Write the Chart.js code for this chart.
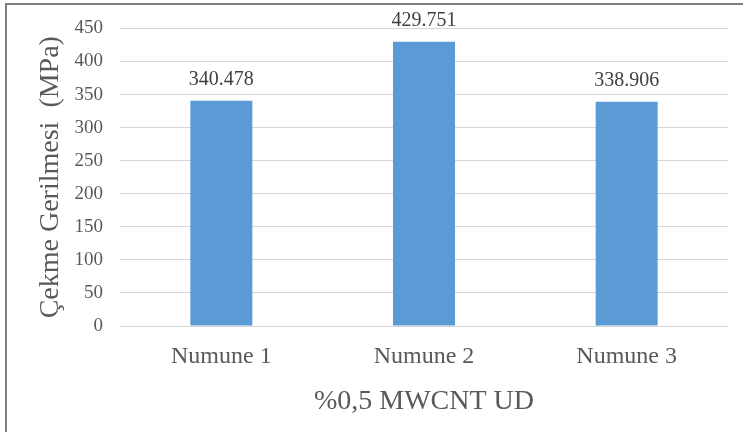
<!DOCTYPE html>
<html>
<head>
<meta charset="utf-8">
<script src="https://cdn.jsdelivr.net/npm/chart.js@4/dist/chart.umd.min.js"></script>
<style>
  html, body { margin: 0; padding: 0; background: #ffffff; }
  #wrap { position: relative; width: 743px; height: 432px; overflow: hidden; }
</style>
</head>
<body>
<div id="wrap"><canvas id="c" width="743" height="432"></canvas></div>
<script>
// Tensile stress per specimen
const categories = ['Numune 1', 'Numune 2', 'Numune 3'];
const stressValues = [340.478, 429.751, 338.906];
const yTicks = [0, 50, 100, 150, 200, 250, 300, 350, 400, 450];

const SERIF = "'Liberation Serif', 'Times New Roman', serif";

// Outer frame of the chart object
const framePlugin = {
  id: 'frame',
  beforeDraw(chart) {
    const ctx = chart.ctx;
    ctx.save();
    ctx.fillStyle = '#ffffff';
    ctx.fillRect(0, 0, chart.width, chart.height);
    ctx.strokeStyle = '#7f7f7f';
    ctx.lineWidth = 2;
    ctx.strokeRect(6, 4, chart.width + 20, chart.height + 20);
    ctx.restore();
  }
};

// Value labels above each bar
const valueLabels = {
  id: 'valueLabels',
  afterDatasetsDraw(chart) {
    const ctx = chart.ctx;
    const meta = chart.getDatasetMeta(0);
    ctx.save();
    ctx.font = '20px ' + SERIF;
    ctx.fillStyle = '#404040';
    ctx.textAlign = 'center';
    ctx.textBaseline = 'middle';
    meta.data.forEach((bar, i) => {
      const v = chart.data.datasets[0].data[i];
      ctx.fillText(v.toFixed(3), bar.x, bar.y - 21);
    });
    ctx.restore();
  }
};

new Chart(document.getElementById('c'), {
  type: 'bar',
  data: {
    labels: categories,
    datasets: [{
      data: stressValues,
      backgroundColor: '#5b9bd5',
      borderWidth: 0,
      categoryPercentage: 1.0,
      barPercentage: 0.306
    }]
  },
  options: {
    responsive: false,
    devicePixelRatio: 1,
    animation: false,
    layout: { padding: { top: 28, right: 15, bottom: 0, left: 10 } },
    plugins: {
      legend: { display: false },
      tooltip: { enabled: false }
    },
    scales: {
      x: {
        grid: { display: false, drawTicks: false },
        border: { display: false },
        ticks: {
          color: '#595959',
          font: { family: SERIF, size: 24 },
          padding: 16
        },
        title: {
          display: true,
          text: '%0,5 MWCNT UD',
          color: '#595959',
          font: { family: SERIF, size: 28 },
          padding: { top: 0, bottom: 14 }
        },
        afterFit(scale) { scale.height = 106; }
      },
      y: {
        min: 0,
        max: 450,
        afterBuildTicks(scale) { scale.ticks = yTicks.map(v => ({ value: v })); },
        grid: { color: '#d6d6d6', lineWidth: 1, drawTicks: false },
        border: { display: false },
        ticks: {
          color: '#595959',
          font: { family: SERIF, size: 19 },
          padding: 17
        },
        title: {
          display: true,
          text: 'Çekme Gerilmesi  (MPa)',
          color: '#595959',
          font: { family: SERIF, size: 28 },
          padding: { top: 24, bottom: 0 }
        },
        afterFit(scale) { scale.width = 110; }
      }
    }
  },
  plugins: [framePlugin, valueLabels]
});
</script>
</body>
</html>
